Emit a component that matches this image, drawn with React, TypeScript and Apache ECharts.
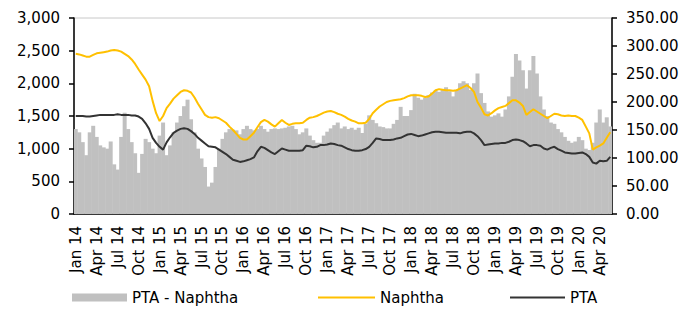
import React, { useEffect, useRef } from "react";
import * as echarts from "echarts";

const monthNames = ["Jan", "Feb", "Mar", "Apr", "May", "Jun", "Jul", "Aug", "Sep", "Oct", "Nov", "Dec"];
const startYear = 2014;
const monthCount = 77; // Jan 2014 .. May 2020, two readings per month
const halfDays = ["01", "16"];

const categories: string[] = [];
for (let m = 0; m < monthCount; m++) {
  const y = startYear + Math.floor(m / 12);
  const mo = (m % 12) + 1;
  for (const d of halfDays) categories.push(`${y}-${mo < 10 ? "0" + mo : mo}-${d}`);
}

// PTA - Naphtha spread (left axis)
const spread = [
  1300, 1250, 1100, 900, 1250, 1350, 1180, 1050, 1020, 1000,
  1110, 760, 680, 1180, 1550, 1300, 1100, 930, 630, 920,
  1150, 1100, 1000, 930, 1200, 1400, 900, 1050, 1250, 1400,
  1500, 1650, 1750, 1450, 1250, 1000, 850, 720, 420, 480,
  720, 1000, 1150, 1250, 1300, 1290, 1280, 1220, 1300, 1350,
  1300, 1280, 1300, 1350, 1300, 1260, 1300, 1310, 1300, 1310,
  1320, 1340, 1350, 1300, 1220, 1250, 1310, 1200, 1130, 1090,
  1090, 1200, 1260, 1310, 1360, 1400, 1310, 1340, 1300, 1320,
  1290, 1320, 1240, 1380, 1510, 1440, 1390, 1340, 1330, 1310,
  1310, 1380, 1440, 1640, 1500, 1500, 1590, 1840, 1780, 1750,
  1780, 1820, 1860, 1890, 1870, 1900, 1940, 1880, 1800, 1900,
  2000, 2030, 2000, 1900, 2000, 2150, 1850, 1700, 1570, 1490,
  1510, 1540, 1490, 1600, 1800, 2100, 2450, 2350, 2200, 1920,
  2200, 2420, 2150, 1800, 1600, 1500, 1400, 1380, 1300, 1250,
  1180, 1120, 1090, 1110, 1180, 1130, 1000, 980, 1090, 1400,
  1600, 1400, 1480, 1340,
];

// Naphtha (right axis)
const naphtha = [
  286, 285, 283, 281, 281, 284, 287, 288, 289, 290,
  292, 293, 292, 290, 286, 282, 276, 268, 258, 249,
  240, 228, 202, 180, 166, 175, 189, 197, 206, 212,
  218, 221, 220, 217, 208, 197, 187, 177, 173, 172,
  173, 171, 167, 163, 156, 150, 143, 136, 133, 133,
  139, 145, 155, 164, 168, 165, 160, 156, 162, 168,
  163, 159, 161, 162, 162, 163, 168, 172, 173, 175,
  178, 181, 183, 184, 182, 179, 177, 174, 170, 167,
  165, 162, 162, 163, 170, 180, 186, 192, 196, 200,
  202, 203, 204, 205, 207, 210, 212, 212, 212, 211,
  209, 210, 215, 221, 223, 222, 221, 221, 220, 221,
  224, 227, 230, 225, 218, 200, 190, 178, 176, 180,
  185, 189, 191, 193, 198, 203, 203, 199, 193, 177,
  182, 187, 183, 179, 175, 171, 175, 179, 178, 176,
  175, 176, 175, 175, 172, 168, 156, 144, 115, 119,
  122, 126, 136, 146,
];

// PTA (right axis)
const pta = [
  175, 175, 175, 174, 174, 175, 176, 177, 177, 177,
  177, 177, 178, 177, 177, 177, 176, 176, 174, 170,
  162, 152, 136, 127, 120, 115, 128, 137, 145, 149,
  152, 153, 152, 148, 143, 136, 131, 126, 121, 120,
  119, 115, 111, 107, 102, 97, 95, 93, 94, 96,
  98, 101, 112, 120, 118, 114, 110, 107, 112, 117,
  115, 113, 113, 113, 113, 114, 122, 121, 119, 120,
  123, 123, 124, 126, 125, 123, 122, 119, 116, 114,
  113, 113, 114, 116, 120, 127, 135, 134, 132, 132,
  132, 133, 135, 136, 139, 142, 143, 141, 139, 140,
  142, 144, 146, 147, 147, 146, 145, 145, 145, 145,
  144, 146, 147, 147, 144, 139, 132, 123, 124, 125,
  126, 126, 127, 127, 129, 132, 133, 132, 130, 126,
  121, 123, 123, 122, 117, 115, 118, 120, 116, 113,
  110, 109, 108, 108, 109, 110, 107, 102, 92, 90,
  95, 94, 95, 102,
];

const FONT = "DejaVu Sans";

function quarterStart(index: number) {
  return index % 6 === 0;
}

function formatCategory(value: string) {
  const [y, m] = value.split("-");
  return `${monthNames[parseInt(m, 10) - 1]} ${y.slice(2)}`;
}

export default function App() {
  const ref = useRef<HTMLDivElement>(null);

  useEffect(() => {
    if (!ref.current) return;
    const chart = echarts.init(ref.current, undefined, { renderer: "svg" });
    const legendText = { fontFamily: FONT, fontSize: 15, color: "#000" };
    chart.setOption({
      animation: false,
      backgroundColor: "#fff",
      grid: {
        left: 74,
        right: 80,
        top: 18,
        bottom: 95,
        show: true,
        borderColor: "#c8c8c8",
        borderWidth: 1,
        containLabel: false,
      },
      legend: [
        {
          data: [{ name: "PTA - Naphtha", icon: "rect" }],
          left: 72,
          top: 290,
          padding: 0,
          itemWidth: 55,
          itemHeight: 8,
          textStyle: legendText,
          selectedMode: false,
        },
        {
          data: [{ name: "Naphtha", icon: "rect" }],
          left: 318,
          top: 290,
          padding: 0,
          itemWidth: 57,
          itemHeight: 2,
          textStyle: legendText,
          selectedMode: false,
        },
        {
          data: [{ name: "PTA", icon: "rect" }],
          left: 510,
          top: 290,
          padding: 0,
          itemWidth: 55,
          itemHeight: 2,
          textStyle: legendText,
          selectedMode: false,
        },
      ],
      xAxis: {
        type: "category",
        data: categories,
        boundaryGap: true,
        axisLine: { lineStyle: { color: "#000", width: 1.5 } },
        axisTick: {
          interval: (i: number) => quarterStart(i),
          length: 5,
          lineStyle: { color: "#000", width: 1.5 },
        },
        axisLabel: {
          interval: (i: number) => quarterStart(i),
          rotate: 90,
          margin: 12,
          fontFamily: FONT,
          fontSize: 15,
          color: "#000",
          formatter: (v: string) => formatCategory(v),
        },
        splitLine: { show: false },
      },
      yAxis: [
        {
          type: "value",
          min: 0,
          max: 3000,
          interval: 500,
          axisLine: { show: true, lineStyle: { color: "#000", width: 1.5 } },
          axisTick: { show: true, length: 5, lineStyle: { color: "#000", width: 1.5 } },
          axisLabel: {
            margin: 14,
            fontFamily: FONT,
            fontSize: 15,
            color: "#000",
            formatter: (v: number) => v.toLocaleString("en-US"),
          },
          splitLine: { show: false },
        },
        {
          type: "value",
          position: "right",
          min: 0,
          max: 350,
          interval: 50,
          axisLine: { show: true, lineStyle: { color: "#000", width: 1.5 } },
          axisTick: { show: true, length: 5, lineStyle: { color: "#000", width: 1.5 } },
          axisLabel: {
            margin: 14,
            fontFamily: FONT,
            fontSize: 15,
            color: "#000",
            formatter: (v: number) => v.toFixed(2),
          },
          splitLine: { show: false },
        },
      ],
      series: [
        {
          name: "PTA - Naphtha",
          type: "bar",
          yAxisIndex: 0,
          data: spread,
          barWidth: 4,
          itemStyle: { color: "#c0c0c0" },
          emphasis: { disabled: true },
        },
        {
          name: "Naphtha",
          type: "line",
          yAxisIndex: 1,
          data: naphtha,
          symbol: "none",
          lineStyle: { color: "#ffc000", width: 2 },
          itemStyle: { color: "#ffc000" },
          emphasis: { disabled: true },
        },
        {
          name: "PTA",
          type: "line",
          yAxisIndex: 1,
          data: pta,
          symbol: "none",
          lineStyle: { color: "#333333", width: 2 },
          itemStyle: { color: "#333333" },
          emphasis: { disabled: true },
        },
      ],
    });
    return () => chart.dispose();
  }, []);

  return (
    <div
      ref={ref}
      style={{ position: "absolute", left: 0, top: 0, width: 692, height: 309, background: "#fff" }}
    />
  );
}
